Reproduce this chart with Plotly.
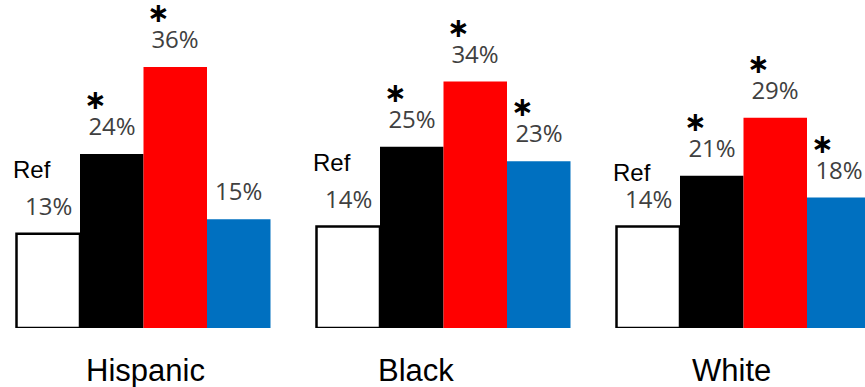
import plotly.graph_objects as go

groups = ["Hispanic", "Black", "White"]
series_names = ["Ref", "Series 2", "Series 3", "Series 4"]
values = {
    "Ref": [13, 14, 14],
    "Series 2": [24, 25, 21],
    "Series 3": [36, 34, 29],
    "Series 4": [15, 23, 18],
}
significant = {
    "Ref": [False, False, False],
    "Series 2": [True, True, True],
    "Series 3": [True, True, True],
    "Series 4": [False, True, True],
}
colors = {"Ref": "white", "Series 2": "black", "Series 3": "#FF0000", "Series 4": "#0070C0"}
group_label_shift = [2, -28, -12]
ref_label_yshift = [64, 64, 54]

W = 865
H = 387
bar_w = 63.5 / 300.0

STAR = ("<span style='font-family:DejaVu Sans;font-size:27px;color:black'><b>\u2217</b></span>"
        "<span style='font-family:DejaVu Sans;font-size:24px'><b>&nbsp;&nbsp;&nbsp;&nbsp;</b></span><br>")

fig = go.Figure()
annotations = []
for si, name in enumerate(series_names):
    xs = [g + (si - 1.5) * bar_w for g in range(len(groups))]
    ys = values[name]
    fig.add_trace(go.Bar(
        x=xs, y=ys, width=bar_w, name=name,
        marker=dict(color=colors[name],
                    line=dict(color="black", width=2.5 if name == "Ref" else 0)),
        showlegend=False, hoverinfo="skip",
    ))
    for gi, (x, y) in enumerate(zip(xs, ys)):
        label = f"<span style='font-size:24px'>{y}%</span>"
        if significant[name][gi]:
            label = STAR + label
        annotations.append(dict(
            x=x, y=y, xref="x", yref="y", text=label, showarrow=False,
            yanchor="bottom", xanchor="center", yshift=10, align="center",
            font=dict(family="Open Sans", size=20, color="#404040"),
        ))
        if name == "Ref":
            annotations.append(dict(
                x=x, y=y, xref="x", yref="y", text="Ref", showarrow=False,
                yanchor="middle", xanchor="center", yshift=ref_label_yshift[gi], xshift=-16,
                font=dict(family="Liberation Sans", size=24, color="black"),
            ))

for gi, g in enumerate(groups):
    annotations.append(dict(
        x=gi, y=0, xref="x", yref="y", text=g, showarrow=False,
        yanchor="middle", xanchor="center", yshift=-42, xshift=group_label_shift[gi],
        font=dict(family="Liberation Sans", size=31, color="black"),
    ))

px_per_unit = 300.0
left_px = 143.5
fig.update_layout(
    width=W, height=H,
    margin=dict(l=0, r=0, t=0, b=59),
    plot_bgcolor="white", paper_bgcolor="white",
    barmode="overlay",
    xaxis=dict(range=[-left_px / px_per_unit, (W - left_px) / px_per_unit],
               visible=False, fixedrange=True),
    yaxis=dict(range=[0, 328 / 7.25], visible=False, fixedrange=True),
    annotations=annotations,
)
fig.write_html("out.html")
